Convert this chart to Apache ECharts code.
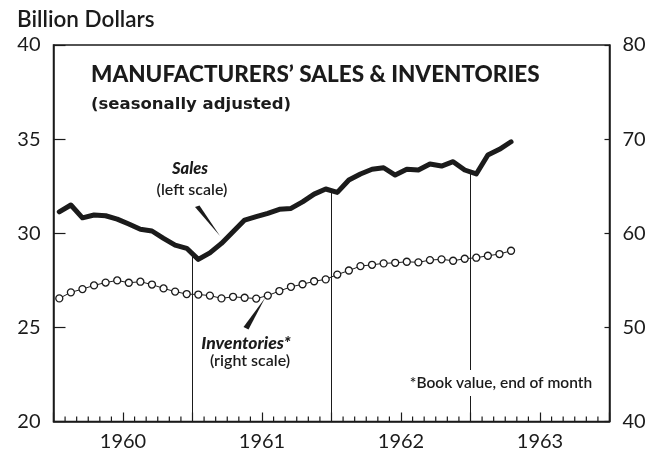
<!DOCTYPE html>
<html>
<head>
<meta charset="utf-8">
<title>Manufacturers' Sales & Inventories</title>
<script src="https://cdn.jsdelivr.net/npm/echarts@6/dist/echarts.min.js"></script>
<style>
  html, body { margin: 0; padding: 0; background: #fff; }
  #chart { width: 651px; height: 455px; }
</style>
</head>
<body>
<div id="chart"></div>
<script>
// monthly, Jan 1960 - Apr 1963, seasonally adjusted, billion dollars
const yearLabels = ['1960', '1961', '1962', '1963'];

const salesValues = [
  31.14, 31.50, 30.82, 30.97, 30.93, 30.75, 30.49, 30.21, 30.12, 29.73, 29.37, 29.20,
  28.61, 28.96, 29.46, 30.08, 30.70, 30.88, 31.06, 31.27, 31.32, 31.67, 32.08, 32.35,
  32.17, 32.83, 33.15, 33.40, 33.48, 33.09, 33.40, 33.36, 33.68, 33.57, 33.80, 33.36,
  33.15, 34.16, 34.46, 34.86
];

const inventoryValues = [
  53.08, 53.72, 54.07, 54.46, 54.76, 54.99, 54.74, 54.85, 54.55, 54.14, 53.80, 53.54,
  53.49, 53.38, 53.08, 53.25, 53.15, 53.06, 53.38, 53.86, 54.31, 54.58, 54.90, 55.10,
  55.61, 56.04, 56.51, 56.65, 56.80, 56.86, 56.97, 56.91, 57.15, 57.23, 57.08, 57.29,
  57.40, 57.61, 57.79, 58.14
];

// year boundaries (months from Jan 1960) where a line drops from the sales curve
const dropMonths = [12, 24, 36];

const FONT = 'Lato, "DejaVu Sans", sans-serif';
const INK = '#1b1b1b';

// points sit in the middle of each month
const salesData = salesValues.map((v, i) => [i + 0.5, v]);
const invData = inventoryValues.map((v, i) => [i + 0.5, v]);

const dropLines = dropMonths.map(m => {
  const y = (salesValues[m - 1] + salesValues[m]) / 2;
  return [{ coord: [m, 20] }, { coord: [m, y] }];
});

// small month ticks along the bottom axis
const monthTicks = [];
for (let m = 1; m < 48; m++) {
  if (m % 6 !== 0) monthTicks.push([m, 20]);
}

const chart = echarts.init(document.getElementById('chart'));

const option = {
  animation: false,
  grid: {
    left: 53.5, right: 41.5, top: 45, bottom: 33.5,
    show: true, borderColor: INK, borderWidth: 1.5
  },
  xAxis: {
    type: 'value',
    min: 0, max: 48, interval: 6,
    axisLine: { show: true, lineStyle: { color: INK, width: 1.5 } },
    axisTick: { show: true, inside: true, length: 9, lineStyle: { color: INK, width: 1.2 } },
    splitLine: { show: false },
    axisLabel: {
      margin: 10,
      fontFamily: FONT, fontSize: 20, color: INK,
      formatter: v => (v % 12 === 6 ? yearLabels[(v - 6) / 12] : '')
    }
  },
  yAxis: [
    {
      type: 'value', min: 20, max: 40, interval: 5,
      axisLine: { show: true, lineStyle: { color: INK, width: 1.5 } },
      axisTick: { show: true, inside: true, length: 12, lineStyle: { color: INK, width: 1.2 } },
      splitLine: { show: false },
      axisLabel: { margin: 13, fontFamily: FONT, fontSize: 20, color: INK }
    },
    {
      type: 'value', min: 40, max: 80, interval: 10, position: 'right',
      axisLine: { show: true, lineStyle: { color: INK, width: 1.5 } },
      axisTick: { show: true, inside: true, length: 5, lineStyle: { color: INK, width: 1.2 } },
      splitLine: { show: false },
      axisLabel: { margin: 13, fontFamily: FONT, fontSize: 20, color: INK }
    }
  ],
  series: [
    {
      name: 'monthTicks',
      type: 'custom',
      silent: true,
      clip: false,
      z: 2,
      data: monthTicks,
      renderItem: function (params, api) {
        const p = api.coord([api.value(0), api.value(1)]);
        return {
          type: 'line',
          shape: { x1: p[0], y1: p[1], x2: p[0], y2: p[1] - 5 },
          style: { stroke: INK, lineWidth: 1.2 }
        };
      }
    },
    {
      name: 'Sales',
      type: 'line',
      yAxisIndex: 0,
      data: salesData,
      symbol: 'none',
      lineStyle: { color: INK, width: 5, join: 'round', cap: 'round' },
      z: 3,
      markLine: {
        silent: true,
        symbol: 'none',
        lineStyle: { color: INK, width: 1, type: 'solid' },
        label: { show: false },
        data: dropLines
      }
    },
    {
      name: 'Inventories',
      type: 'line',
      yAxisIndex: 1,
      data: invData,
      symbol: 'circle',
      symbolSize: 7,
      showAllSymbol: true,
      lineStyle: { color: INK, width: 1 },
      itemStyle: { color: '#fff', borderColor: INK, borderWidth: 1.3 },
      z: 4
    }
  ],
  graphic: [
    { type: 'text', left: 17, top: 8, z: 100,
      style: { text: 'Billion Dollars', font: '600 22.5px ' + FONT, fill: INK } },
    { type: 'text', left: 91, top: 63, z: 100,
      style: { text: 'MANUFACTURERS\u2019 SALES & INVENTORIES', font: '900 22.5px ' + FONT, fill: INK } },
    { type: 'text', left: 91, top: 96, z: 100,
      style: { text: '(seasonally adjusted)', font: 'bold 16.5px "DejaVu Sans", sans-serif', fill: INK } },
    { type: 'text', x: 190, y: 169, z: 100,
      style: { text: 'Sales', font: 'italic 900 16.5px ' + FONT, fill: INK, align: 'center', verticalAlign: 'middle' } },
    { type: 'text', x: 192, y: 190, z: 100,
      style: { text: '(left scale)', font: '600 16px ' + FONT, fill: INK, align: 'center', verticalAlign: 'middle' } },
    { type: 'polygon', z: 100,
      shape: { points: [[195, 207], [199.5, 205.5], [220, 236]] }, style: { fill: INK } },
    { type: 'text', x: 246, y: 343, z: 100,
      style: { text: 'Inventories*', font: 'italic 900 17.5px ' + FONT, fill: INK, align: 'center', verticalAlign: 'middle' } },
    { type: 'text', x: 250, y: 361, z: 100,
      style: { text: '(right scale)', font: '600 16px ' + FONT, fill: INK, align: 'center', verticalAlign: 'middle' } },
    { type: 'polygon', z: 100,
      shape: { points: [[243.5, 327], [248.5, 329.5], [265, 298]] }, style: { fill: INK } },
    { type: 'text', x: 501, y: 383, z: 100,
      style: { text: '*Book value, end of month', font: '600 15.5px ' + FONT, fill: INK,
        align: 'center', verticalAlign: 'middle', backgroundColor: '#fff', padding: [5, 3] } }
  ]
};

chart.setOption(option);
</script>
</body>
</html>
